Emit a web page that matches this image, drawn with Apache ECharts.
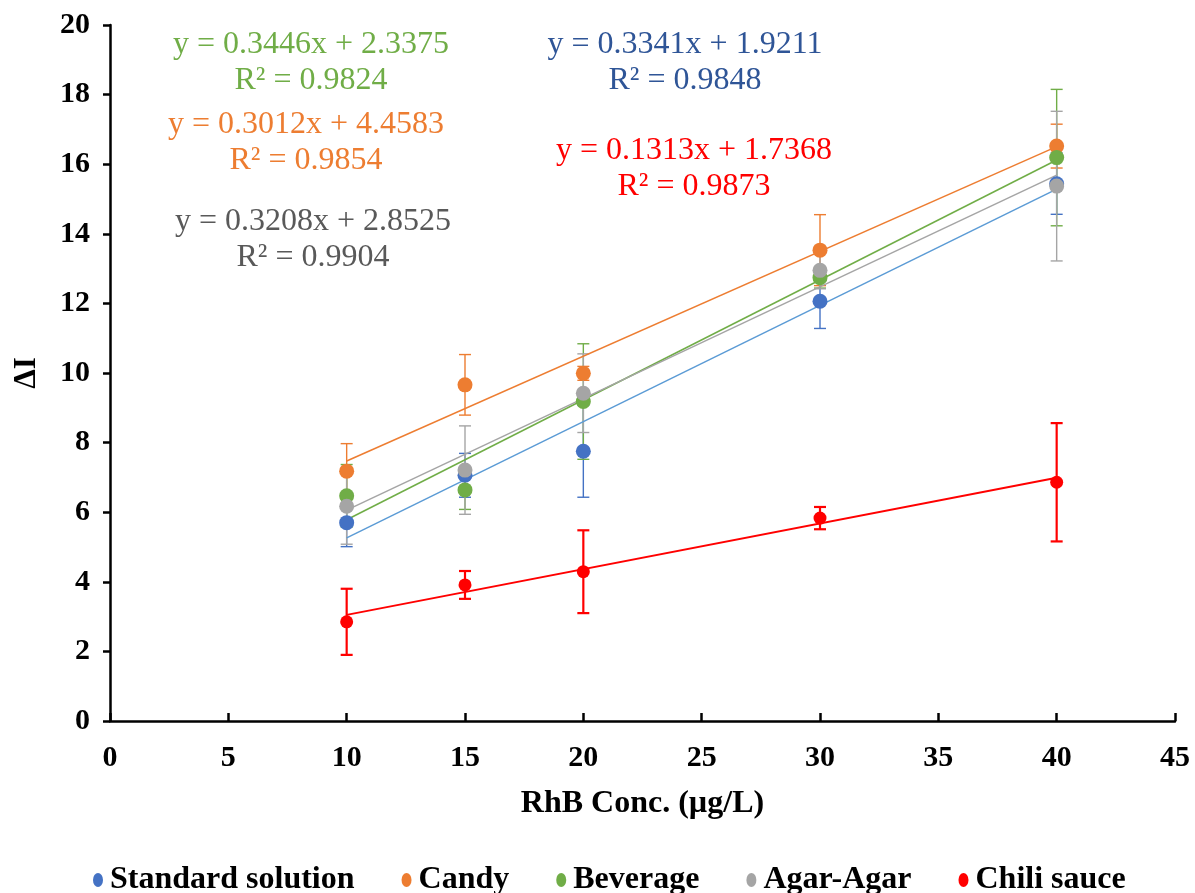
<!DOCTYPE html>
<html>
<head>
<meta charset="utf-8">
<script src="https://cdn.jsdelivr.net/npm/echarts@6/dist/echarts.min.js"></script>
<style>
  html, body { margin: 0; padding: 0; background: #fff; }
  #chart { width: 1195px; height: 893px; }
</style>
</head>
<body>
<div id="chart"></div>
<script>
// RhB concentration (µg/L)
const concentrations = [10, 15, 20, 30, 40];

// Mean ΔI and standard deviation per matrix
const standardY   = [5.70, 7.06, 7.75, 12.06, 15.44];
const standardErr = [0.69, 0.63, 1.32, 0.78, 0.88];
const candyY      = [7.18, 9.66, 9.99, 13.53, 16.52];
const candyErr    = [0.79, 0.87, 0.20, 1.02, 0.63];
const beverageY   = [6.47, 6.64, 9.18, 12.74, 16.19];
const beverageErr = [0.90, 0.56, 1.66, 0.30, 1.96];
const agarY       = [6.17, 7.21, 9.42, 12.95, 15.37];
const agarErr     = [1.09, 1.27, 1.13, 0.53, 2.15];
const chiliY      = [2.85, 3.91, 4.29, 5.83, 6.86];
const chiliErr    = [0.95, 0.40, 1.19, 0.32, 1.70];

// Linear fits
const slopes     = [0.3341, 0.3012, 0.3446, 0.3208, 0.1313];
const intercepts = [1.9211, 4.4583, 2.3375, 2.8525, 1.7368];
const r2Values   = [0.9848, 0.9854, 0.9824, 0.9904, 0.9873];

const seriesNames = ['Standard solution', 'Candy', 'Beverage', 'Agar-Agar', 'Chili sauce'];
const xTicks = [0, 45, 5];   // min, max, step
const yTicks = [0, 20, 2];

const markerColors = ['#4472C4', '#ED7D31', '#70AD47', '#A5A5A5', '#FF0000'];
const fitColors    = ['#5B9BD5', '#ED7D31', '#70AD47', '#A5A5A5', '#FF0000'];
const eqColors     = ['#2F5597', '#ED7D31', '#70AD47', '#595959', '#FF0000'];
const allY   = [standardY, candyY, beverageY, agarY, chiliY];
const allErr = [standardErr, candyErr, beverageErr, agarErr, chiliErr];

// Equation label anchors (centre of the first line of each pair)
const eqAnchors = [[685, 45], [306, 125], [311, 45], [313, 222], [694, 151]];

const FONT = '"Liberation Serif", "Times New Roman", serif';
const chart = echarts.init(document.getElementById('chart'));

const series = [];
seriesNames.forEach((name, i) => {
  const isChili = i === 4;
  // error bars
  series.push({
    name: name,
    type: 'custom',
    z: 2,
    silent: true,
    data: concentrations.map((x, k) => [x, allY[i][k], allErr[i][k]]),
    renderItem: function (params, api) {
      const x = api.value(0), y = api.value(1), e = api.value(2);
      const top = api.coord([x, y + e]);
      const bot = api.coord([x, y - e]);
      const hw = 6;
      const style = { stroke: markerColors[i], lineWidth: isChili ? 2.2 : 1.4, fill: null };
      return {
        type: 'group',
        children: [
          { type: 'line', shape: { x1: top[0], y1: top[1], x2: bot[0], y2: bot[1] }, style: style },
          { type: 'line', shape: { x1: top[0] - hw, y1: top[1], x2: top[0] + hw, y2: top[1] }, style: style },
          { type: 'line', shape: { x1: bot[0] - hw, y1: bot[1], x2: bot[0] + hw, y2: bot[1] }, style: style }
        ]
      };
    }
  });
  // fitted line over the data range
  const x0 = concentrations[0], x1 = concentrations[concentrations.length - 1];
  series.push({
    name: name,
    type: 'line',
    z: 3,
    silent: true,
    symbol: 'none',
    lineStyle: { color: fitColors[i], width: isChili ? 2 : 1.5 },
    data: [[x0, slopes[i] * x0 + intercepts[i]], [x1, slopes[i] * x1 + intercepts[i]]]
  });
  // measured points
  series.push({
    name: name,
    type: 'scatter',
    z: 4 + i,
    symbol: 'circle',
    symbolSize: isChili ? 13 : 15,
    itemStyle: { color: markerColors[i], opacity: 1 },
    data: concentrations.map((x, k) => [x, allY[i][k]])
  });
});

const graphics = [];
seriesNames.forEach((name, i) => {
  const [cx, cy] = eqAnchors[i];
  graphics.push({
    type: 'text', x: cx, y: cy, z: 10,
    style: {
      text: 'y = ' + slopes[i].toFixed(4) + 'x + ' + intercepts[i].toFixed(4),
      fill: eqColors[i], font: '32px ' + FONT, textAlign: 'center', textVerticalAlign: 'middle'
    }
  });
  graphics.push({
    type: 'text', x: cx, y: cy + 36, z: 10,
    style: {
      text: 'R² = ' + r2Values[i].toFixed(4),
      fill: eqColors[i], font: '32px ' + FONT, textAlign: 'center', textVerticalAlign: 'middle'
    }
  });
});

const option = {
  backgroundColor: '#ffffff',
  animation: false,
  textStyle: { fontFamily: FONT },
  grid: { left: 110, right: 20, top: 25, bottom: 172, containLabel: false },
  xAxis: {
    type: 'value',
    min: xTicks[0], max: xTicks[1], interval: xTicks[2],
    name: 'RhB Conc. (µg/L)',
    nameLocation: 'middle',
    nameGap: 67,
    nameTextStyle: { fontFamily: FONT, fontWeight: 'bold', fontSize: 32, color: '#000' },
    axisLine: { show: true, onZero: false, lineStyle: { color: '#000', width: 2.5 } },
    axisTick: { show: true, inside: true, length: 8, lineStyle: { color: '#000', width: 2.5 } },
    axisLabel: { fontFamily: FONT, fontWeight: 'bold', fontSize: 30, color: '#000', margin: 22 },
    splitLine: { show: false }
  },
  yAxis: {
    type: 'value',
    min: yTicks[0], max: yTicks[1], interval: yTicks[2],
    name: 'ΔI',
    nameLocation: 'middle',
    nameGap: 68,
    nameTextStyle: { fontFamily: FONT, fontWeight: 'bold', fontSize: 31, color: '#000' },
    axisLine: { show: true, onZero: false, lineStyle: { color: '#000', width: 2.5 } },
    axisTick: { show: true, inside: false, length: 7, lineStyle: { color: '#000', width: 2.5 } },
    axisLabel: { fontFamily: FONT, fontWeight: 'bold', fontSize: 30, color: '#000', margin: 20 },
    splitLine: { show: false }
  },
  legend: {
    data: seriesNames.map((n, i) => ({
      name: n,
      icon: 'path://M0,5a5,5 0 1,0 10,0a5,5 0 1,0 -10,0z',
      itemStyle: { color: markerColors[i] }
    })),
    symbolKeepAspect: false,
    left: 88,
    bottom: -8,
    itemWidth: 10,
    itemHeight: 14,
    itemGap: 47,
    textStyle: { fontFamily: FONT, fontWeight: 'bold', fontSize: 32, color: '#000', padding: [0, 0, 0, 2] },
    selectedMode: false
  },
  series: series,
  graphic: graphics
};

chart.setOption(option);
</script>
</body>
</html>
